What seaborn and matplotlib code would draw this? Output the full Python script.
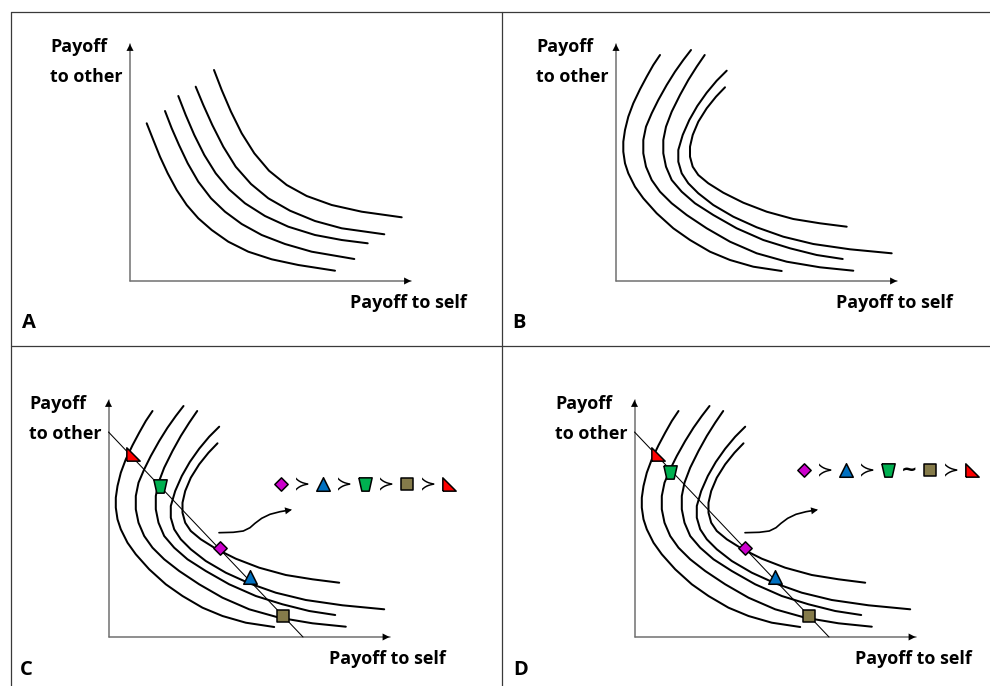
import matplotlib
matplotlib.use("Agg")
import matplotlib.pyplot as plt
from matplotlib.markers import MarkerStyle
import numpy as np
import seaborn as sns

sns.set_theme(style="white")
plt.rcParams["font.family"] = ["Open Sans", "DejaVu Sans"]
plt.rcParams["text.color"] = "black"

# ---------------- data (payoff to self, payoff to other), relative to each panel's origin
# Panel A: convex indifference curves
A1_self  = [16.7, 23.3, 30.0, 37.7, 46.7, 56.7, 68.3, 81.7, 98.3, 118.3, 141.7, 168.3, 205.0]
A1_other = [157.7, 141.0, 124.3, 107.7, 91.0, 76.0, 62.7, 51.0, 39.3, 29.3, 21.7, 16.0, 10.3]
A2_self  = [35.0, 41.7, 49.0, 57.7, 68.3, 81.0, 95.0, 111.7, 131.7, 155.0, 181.7, 224.3]
A2_other = [170.0, 152.7, 136.0, 117.7, 99.3, 82.7, 69.3, 57.0, 46.0, 37.0, 29.3, 22.0]
A3_self  = [48.3, 55.7, 64.3, 74.3, 85.7, 99.0, 115.0, 135.0, 158.3, 185.0, 211.7, 237.7]
A3_other = [185.0, 166.0, 146.0, 126.0, 107.7, 91.7, 77.7, 65.0, 54.3, 46.0, 41.0, 37.7]
A4_self  = [65.7, 73.3, 82.3, 93.3, 105.7, 121.0, 138.3, 160.0, 185.0, 211.7, 254.3]
A4_other = [194.3, 176.0, 156.0, 134.3, 114.3, 97.0, 82.7, 70.3, 60.0, 52.7, 46.7]
A5_self  = [84.0, 91.7, 101.0, 111.7, 124.3, 139.0, 156.7, 176.7, 201.7, 231.7, 271.7]
A5_other = [211.0, 191.0, 169.3, 147.7, 127.7, 110.3, 96.0, 85.0, 76.0, 69.3, 63.7]

# Panels B, C, D: backward-bending indifference curves
B1_self  = [44.0, 37.3, 30.7, 24.0, 17.3, 12.3, 9.0, 7.3, 7.3, 9.0, 12.3, 19.0, 27.3, 40.7, 57.3, 74.0, 94.0, 114.0, 137.3, 165.7]
B1_other = [226.0, 216.0, 204.3, 191.7, 177.7, 164.3, 151.0, 139.3, 129.3, 117.7, 107.7, 94.3, 82.7, 67.7, 52.7, 41.0, 29.3, 21.0, 14.3, 10.0]
B2_self  = [75.0, 67.3, 59.0, 50.7, 42.3, 35.7, 30.0, 27.3, 27.3, 30.0, 35.7, 44.0, 55.7, 70.7, 90.7, 114.0, 140.7, 170.7, 204.0, 237.3]
B2_other = [231.0, 221.0, 209.3, 196.0, 181.0, 167.7, 154.3, 141.0, 127.7, 114.3, 101.0, 89.3, 77.7, 66.0, 52.7, 39.3, 27.7, 19.3, 13.7, 10.3]
B3_self  = [88.7, 80.7, 72.3, 64.0, 55.7, 50.0, 47.3, 47.3, 50.0, 55.7, 65.7, 79.0, 97.3, 120.7, 147.3, 174.0, 200.7, 226.7]
B3_other = [226.0, 214.3, 201.0, 186.0, 169.3, 154.3, 141.0, 127.7, 114.3, 101.0, 89.3, 77.7, 66.0, 52.7, 41.0, 32.7, 26.0, 22.0]
B4_self  = [110.7, 100.7, 90.7, 81.3, 73.3, 66.7, 62.3, 62.3, 65.7, 72.3, 82.3, 97.3, 117.3, 140.7, 167.3, 197.3, 234.0, 275.7]
B4_other = [210.3, 200.3, 188.3, 175.0, 161.0, 146.0, 131.0, 119.3, 107.7, 97.7, 87.7, 76.0, 64.3, 53.7, 44.3, 37.0, 31.7, 27.7]
B5_self  = [109.0, 100.0, 90.7, 82.3, 76.7, 74.0, 74.0, 76.7, 82.3, 92.3, 107.3, 127.3, 150.7, 177.3, 204.0, 230.7]
B5_other = [193.7, 184.3, 172.7, 159.3, 146.0, 134.3, 124.3, 114.3, 106.0, 97.7, 88.3, 78.3, 69.3, 62.0, 57.7, 54.3]

# budget line (C, D)
line_self  = [0.0, 194.5]
line_other = [205.0, 0.0]

# options on the budget line: diamond, triangle, trapezoid, square, right triangle
opt_names   = ["diamond", "triangle", "trapezoid", "square", "rtriangle"]
C_opt_self  = [111.0, 141.0, 51.7, 174.7, 24.3]
C_opt_other = [88.7, 60.3, 151.3, 21.3, 182.7]
D_opt_self  = [110.0, 140.7, 35.0, 174.0, 23.0]
D_opt_other = [88.7, 60.3, 165.3, 21.3, 182.7]

# preference orderings
C_pref = ["diamond", "≻", "triangle", "≻", "trapezoid", "≻", "square", "≻", "rtriangle"]
D_pref = ["diamond", "≻", "triangle", "≻", "trapezoid", "~", "square", "≻", "rtriangle"]

# curved pointer arrow (relative to panel origin)
arrow_self  = [110.5, 124.8, 134.8, 141.5, 146.5, 153.2, 161.5, 171.5, 181.5]
arrow_other = [104.3, 104.7, 106.0, 109.3, 113.7, 118.7, 122.7, 125.3, 127.0]

panel_letters = ["A", "B", "C", "D"]
axis_title_x = "Payoff to self"
axis_title_y = ["Payoff", "to other"]

# ---------------- styles / layout (pixels)
W, H = 990, 686
origins = {"A": (130, 281), "B": (616, 281), "C": (108.5, 637), "D": (634.5, 637)}
ylab_pos = {"A": (50, 51.7), "B": (536, 51.7), "C": (29, 409), "D": (555, 409)}
xlab_pos = {"A": (350, 308), "B": (836, 308), "C": (329, 663.7), "D": (855, 663.7)}
letter_pos = {"A": (22, 328), "B": (512, 328), "C": (20, 675), "D": (513, 675)}
pref_start = {"C": (280.7, 484), "D": (804.3, 469.7)}
pref_step = 21.0
AX_UP, AX_RIGHT = 237, 281

colors = {"diamond": "#CC00CC", "triangle": "#0070C0", "trapezoid": "#00B050",
          "square": "#857B4A", "rtriangle": "#FF0000"}
markers = {"diamond": MarkerStyle("D"), "triangle": MarkerStyle("^"),
           "trapezoid": MarkerStyle([(-1, 1), (1, 1), (0.55, -1), (-0.55, -1), (-1, 1)]),
           "square": MarkerStyle("s"),
           "rtriangle": MarkerStyle([(-1, -1), (1, -1), (-1, 1), (-1, -1)])}
sizes = {"diamond": 46, "triangle": 95, "trapezoid": 92, "square": 82, "rtriangle": 92}

fig = plt.figure(figsize=(W / 100, H / 100), dpi=100)
ax = fig.add_axes([0, 0, 1, 1])
ax.set_xlim(0, W)
ax.set_ylim(H, 0)
ax.axis("off")

def px(panel, xs, ys):
    ox, oy = origins[panel]
    return [ox + v for v in xs], [oy - v for v in ys]

# frame
fc = "#3a3a3a"
ax.plot([11, W], [12, 12], color=fc, lw=0.9)
ax.plot([11, 11], [12, H], color=fc, lw=0.9)
ax.plot([502, 502], [12, H], color=fc, lw=0.9)
ax.plot([11, W], [346, 346], color=fc, lw=0.9)

def arrowhead(x0, y0, x1, y1, color="black", scale=9):
    ax.annotate("", xy=(x1, y1), xytext=(x0, y0),
                arrowprops=dict(arrowstyle="-|>,head_length=0.55,head_width=0.28",
                                color=color, lw=0.01, shrinkA=0, shrinkB=0,
                                mutation_scale=scale), zorder=4)

curvesA = [(A1_self, A1_other), (A2_self, A2_other), (A3_self, A3_other),
           (A4_self, A4_other), (A5_self, A5_other)]
curvesB = [(B1_self, B1_other), (B2_self, B2_other), (B3_self, B3_other),
           (B4_self, B4_other), (B5_self, B5_other)]

tkw = dict(fontsize=12.9, fontweight="bold", ha="left", va="baseline", color="black")
for p in panel_letters:
    ox, oy = origins[p]
    # axes
    ax.plot([ox, ox], [oy, oy - AX_UP], color="#707070", lw=1.1, zorder=2)
    ax.plot([ox, ox + AX_RIGHT], [oy, oy], color="#707070", lw=1.1, zorder=2)
    arrowhead(ox, oy - AX_UP + 6, ox, oy - AX_UP)
    arrowhead(ox + AX_RIGHT - 6, oy, ox + AX_RIGHT, oy)
    # labels
    ax.text(ylab_pos[p][0], ylab_pos[p][1], axis_title_y[0], **tkw)
    ax.text(ylab_pos[p][0], ylab_pos[p][1] + 30, axis_title_y[1], **tkw)
    ax.text(*xlab_pos[p], axis_title_x, **tkw)
    ax.text(*letter_pos[p], p, fontsize=14.5, fontweight="bold", ha="left", va="baseline",
            color="black")
    # curves
    for xs, ys in (curvesA if p == "A" else curvesB):
        X, Y = px(p, xs, ys)
        sns.lineplot(x=X, y=Y, sort=False, estimator=None, color="black", lw=1.45, ax=ax, zorder=3)

for p, os_, oo in [("C", C_opt_self, C_opt_other), ("D", D_opt_self, D_opt_other)]:
    X, Y = px(p, line_self, line_other)
    sns.lineplot(x=X, y=Y, sort=False, estimator=None, color="black", lw=0.75, ax=ax, zorder=3)
    X, Y = px(p, os_, oo)
    for name, xx, yy in zip(opt_names, X, Y):
        sns.scatterplot(x=[xx], y=[yy], marker=markers[name], s=sizes[name], color=colors[name],
                        edgecolor="black", linewidth=1.1, ax=ax, zorder=6)
    # curved pointer
    X, Y = px(p, arrow_self, arrow_other)
    sns.lineplot(x=X, y=Y, sort=False, estimator=None, color="black", lw=1.2, ax=ax, zorder=3)
    arrowhead(X[-2], Y[-2], X[-1] + 2, Y[-1] - 0.3)
    # preference ordering
    x0, y0 = pref_start[p]
    for i, item in enumerate(C_pref if p == "C" else D_pref):
        xx = x0 + i * pref_step
        if item in colors:
            sns.scatterplot(x=[xx], y=[y0], marker=markers[item], s=sizes[item], color=colors[item],
                            edgecolor="black", linewidth=1.1, ax=ax, zorder=6)
        elif item == "~":
            ax.text(xx, y0, "~", fontsize=14, fontweight="bold", family="DejaVu Sans",
                    ha="center", va="center", color="black")
        else:
            ax.text(xx, y0 + 1, item, fontsize=14, family="DejaVu Sans", ha="center",
                    va="center", color="black")

ax.set_xlim(0, W)
ax.set_ylim(H, 0)
fig.savefig("out.png", dpi=100, facecolor="white")
